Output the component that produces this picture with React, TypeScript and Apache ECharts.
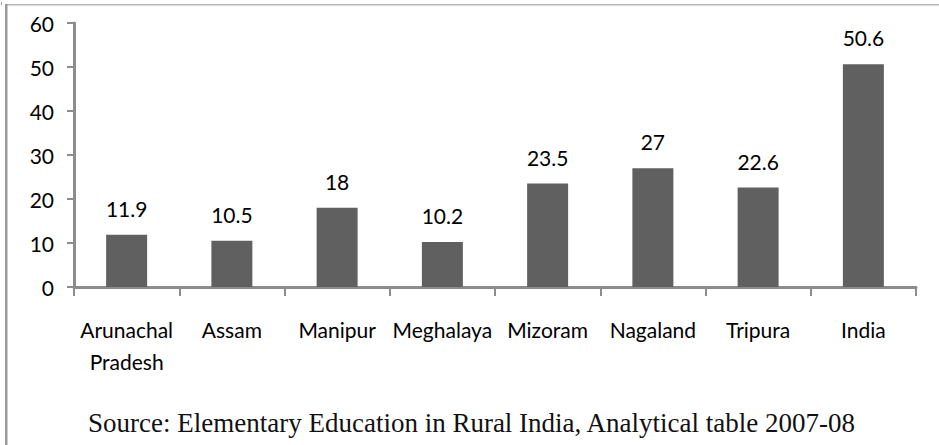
import React, { useEffect, useRef } from "react";
import * as echarts from "echarts";

const categories = ["Arunachal\nPradesh", "Assam", "Manipur", "Meghalaya", "Mizoram", "Nagaland", "Tripura", "India"];
const values = [11.9, 10.5, 18, 10.2, 23.5, 27, 22.6, 50.6];
const yTicks = { min: 0, max: 60, interval: 10 };
const sourceText = "Source: Elementary Education in Rural India, Analytical table 2007-08";

const SANS = "Lato, 'Liberation Sans Narrow', sans-serif";

export default function App() {
  const ref = useRef<HTMLDivElement>(null);
  useEffect(() => {
    if (!ref.current) return;
    const chart = echarts.init(ref.current, null, { renderer: "svg" });
    chart.setOption({
      animation: false,
      backgroundColor: "#ffffff",
      grid: { left: 74, right: 23, top: 23, bottom: 158, containLabel: false },
      xAxis: {
        type: "category",
        data: categories,
        axisLine: { lineStyle: { color: "#8c8c8c", width: 3 } },
        axisTick: { show: true, length: 9, lineStyle: { color: "#8c8c8c", width: 2 } },
        axisLabel: {
          color: "#000",
          fontFamily: SANS,
          fontSize: 21,
          lineHeight: 32,
          margin: 26,
          interval: 0,
        },
      },
      yAxis: {
        type: "value",
        min: yTicks.min,
        max: yTicks.max,
        interval: yTicks.interval,
        splitLine: { show: false },
        axisLine: { show: true, lineStyle: { color: "#8c8c8c", width: 3 } },
        axisTick: { show: true, length: 7, lineStyle: { color: "#8c8c8c", width: 2 } },
        axisLabel: { color: "#000", fontFamily: SANS, fontSize: 21, margin: 20 },
      },
      series: [
        {
          type: "bar",
          data: values,
          barWidth: 41,
          itemStyle: { color: "#606060" },
          label: {
            show: true,
            position: "top",
            distance: 16,
            color: "#000",
            fontFamily: SANS,
            fontSize: 21,
          },
        },
      ],
      graphic: [
        { type: "rect", shape: { x: 7, y: 4, width: 932, height: 1.5 }, style: { fill: "#b8b8b8" } },
        { type: "rect", shape: { x: 5, y: 4, width: 2.5, height: 441 }, style: { fill: "#9a9a9a" } },
        { type: "rect", shape: { x: 1, y: 2, width: 1, height: 3 }, style: { fill: "#9a9a9a" } },
        {
          type: "text",
          x: 88,
          y: 423,
          style: {
            text: sourceText,
            fill: "#111",
            font: "27px 'Liberation Serif', 'Times New Roman', serif",
            verticalAlign: "middle",
            align: "left",
          },
        },
      ],
    });
    return () => chart.dispose();
  }, []);
  return (
    <div
      ref={ref}
      style={{ position: "fixed", left: 0, top: 0, width: 939, height: 445, background: "#fff" }}
    />
  );
}
